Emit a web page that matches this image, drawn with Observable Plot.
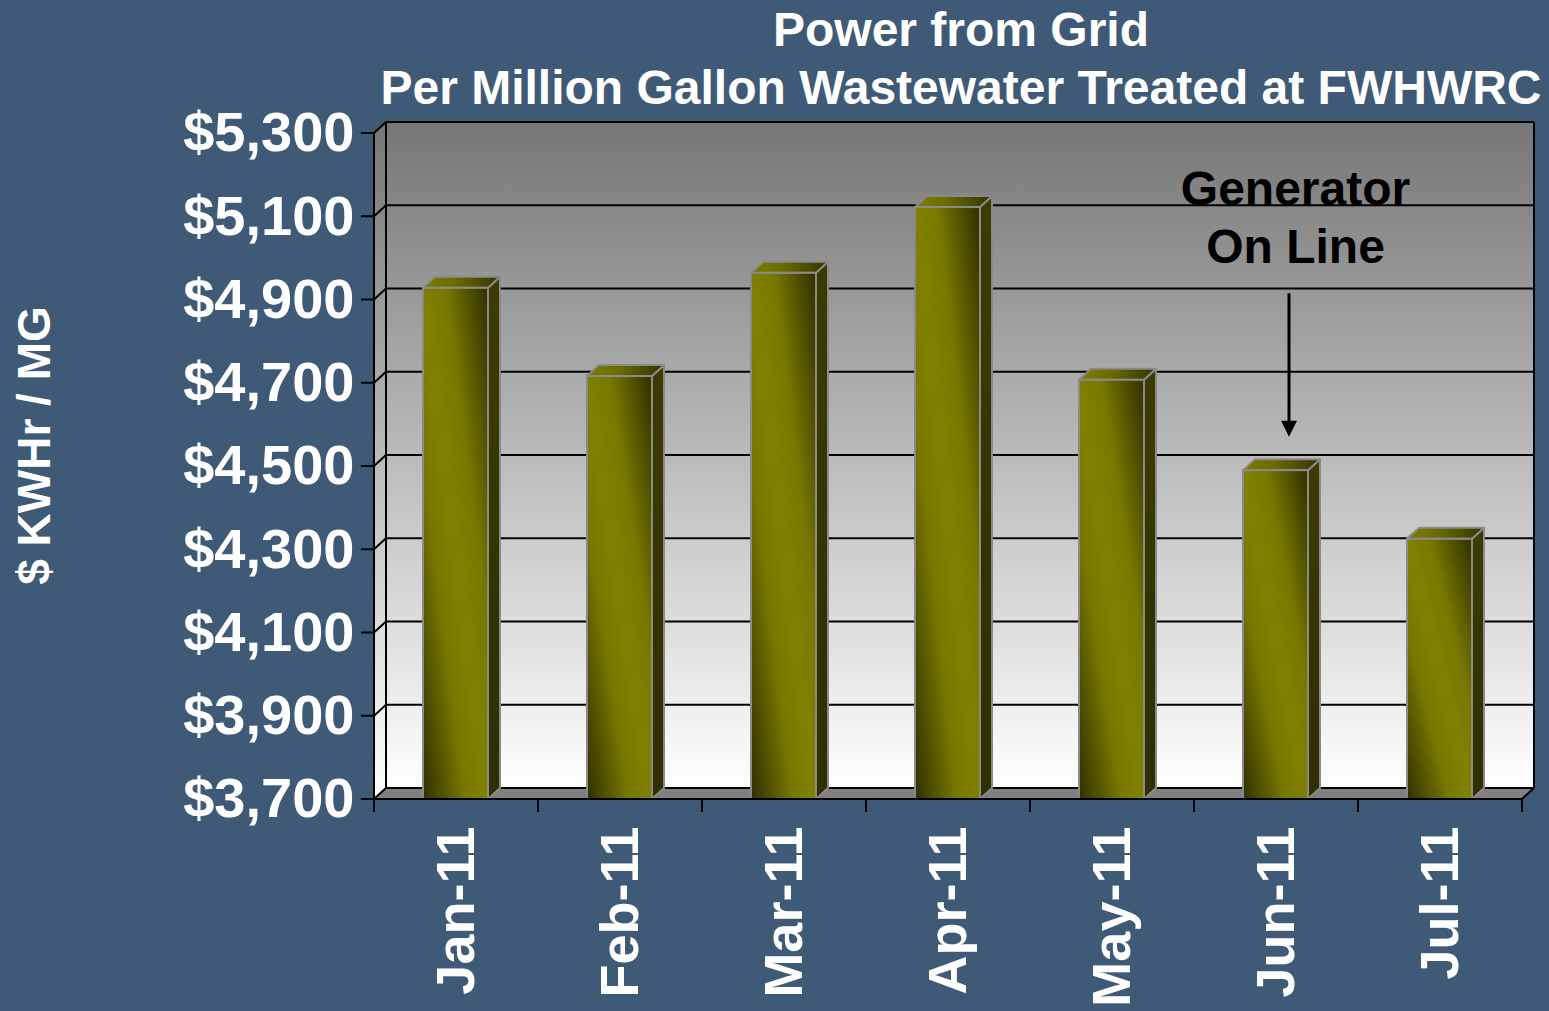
<!DOCTYPE html>
<html>
<head>
<meta charset="utf-8">
<script src="https://cdn.jsdelivr.net/npm/d3@7"></script>
<script src="https://cdn.jsdelivr.net/npm/@observablehq/plot@0.6"></script>
<style>
  html, body { margin: 0; padding: 0; background: #3f5a76; width: 1549px; height: 1011px; overflow: hidden; }
  #wrap { position: relative; width: 1549px; height: 1011px; }
  .title { position: absolute; left: 361px; width: 1200px; text-align: center; color: #ffffff;
           font: bold 48px "Liberation Sans", Arial, sans-serif; line-height: 48px; white-space: nowrap; }
  #chart { position: absolute; left: 0; top: 0; }
</style>
</head>
<body>
<div id="wrap">
  <div id="chart"></div>
  <div class="title" style="top:6px">Power from Grid</div>
  <div class="title" style="top:64px">Per Million Gallon Wastewater Treated at FWHWRC</div>
</div>
<script>
// ---------- data ----------
const months = ["Jan-11", "Feb-11", "Mar-11", "Apr-11", "May-11", "Jun-11", "Jul-11"];
const values = [4928, 4716, 4964, 5122, 4707, 4490, 4325];
const yTicks = [3700, 3900, 4100, 4300, 4500, 4700, 4900, 5100, 5300];
const yDomain = [3700, 5300];
const yLabel = "$ KWHr / MG";
const annotationText = "Generator\nOn Line";
const annotationMonth = "Jun-11";
const arrowFrom = 4915;
const arrowTo = 4570;

// ---------- build ----------
const data = months.map((m, i) => ({month: m, value: values[i]}));
const FONT = '"Liberation Sans", Arial, sans-serif';
const DX = 12, DY = -11;           // 3-D depth offset
const INSET_L = 49, INSET_R = 50;  // bar insets within band
const fmt = d3.format("$,.0f");
const NS = "http://www.w3.org/2000/svg";

function el(tag, attrs) {
  const e = document.createElementNS(NS, tag);
  for (const k in attrs) e.setAttribute(k, attrs[k]);
  return e;
}
function pts(arr) { return arr.map(p => p.join(",")).join(" "); }

// back wall, side wall, floor, gridlines
function frame3d(index, {x, y}) {
  const g = el("g", {});
  const defs = el("defs", {});
  defs.innerHTML = `
    <linearGradient id="wallGrad" x1="0" y1="0" x2="0" y2="1">
      <stop offset="0" stop-color="#767676"/><stop offset="1" stop-color="#ffffff"/>
    </linearGradient>
    <linearGradient id="barFront" x1="1" y1="0" x2="0" y2="1">
      <stop offset="0" stop-color="#2f2f00"/><stop offset="0.33" stop-color="#787800"/>
      <stop offset="0.5" stop-color="#808000"/><stop offset="0.67" stop-color="#787800"/>
      <stop offset="1" stop-color="#2f2f00"/>
    </linearGradient>
    <linearGradient id="barTop" x1="0" y1="0" x2="1" y2="0">
      <stop offset="0" stop-color="#7c7c00"/><stop offset="0.4" stop-color="#6c6c00"/><stop offset="1" stop-color="#333300"/>
    </linearGradient>
    <linearGradient id="barSide" x1="0" y1="0" x2="0" y2="1">
      <stop offset="0" stop-color="#3c3c00"/><stop offset="1" stop-color="#2e2e00"/>
    </linearGradient>`;
  g.appendChild(defs);
  const bw = x.bandwidth();
  const xL = x(months[0]), xR = x(months[months.length - 1]) + bw;
  const yT = y(yDomain[1]), yB = y(yDomain[0]);
  g.appendChild(el("rect", {x: xL + DX, y: yT + DY, width: xR - xL, height: yB - yT, fill: "url(#wallGrad)"}));
  g.appendChild(el("polygon", {points: pts([[xL, yT], [xL + DX, yT + DY], [xL + DX, yB + DY], [xL, yB]]), fill: "url(#wallGrad)"}));
  g.appendChild(el("polygon", {points: pts([[xL, yB], [xL + DX, yB + DY], [xR + DX, yB + DY], [xR, yB]]), fill: "#808080"}));
  for (const t of yTicks) {
    const yy = y(t);
    g.appendChild(el("line", {x1: xL + DX, x2: xR + DX, y1: yy + DY, y2: yy + DY, stroke: "#000", "stroke-width": 2}));
    g.appendChild(el("line", {x1: xL, x2: xL + DX, y1: yy, y2: yy + DY, stroke: "#000", "stroke-width": 2}));
  }
  g.appendChild(el("line", {x1: xL + DX, x2: xL + DX, y1: yT + DY, y2: yB + DY, stroke: "#000", "stroke-width": 2}));
  g.appendChild(el("line", {x1: xR + DX, x2: xR + DX, y1: yT + DY, y2: yB + DY, stroke: "#000", "stroke-width": 2}));
  g.appendChild(el("line", {x1: xR, x2: xR + DX, y1: yB, y2: yB + DY, stroke: "#000", "stroke-width": 2}));
  return g;
}

// side and top faces of the bars
function barFaces(index, {x, y}) {
  const g = el("g", {stroke: "#8a8a8a", "stroke-width": 2, "stroke-linejoin": "round"});
  const bw = x.bandwidth();
  const yb = y(yDomain[0]);
  for (const d of data) {
    const x0 = x(d.month) + INSET_L, x1 = x(d.month) + bw - INSET_R, y0 = y(d.value);
    g.appendChild(el("polygon", {points: pts([[x1, y0], [x1 + DX, y0 + DY], [x1 + DX, yb + DY], [x1, yb]]), fill: "url(#barSide)"}));
    g.appendChild(el("polygon", {points: pts([[x0, y0], [x0 + DX, y0 + DY], [x1 + DX, y0 + DY], [x1, y0]]), fill: "url(#barTop)"}));
  }
  return g;
}

// front axes lines and ticks
function axes3d(index, {x, y}) {
  const g = el("g", {stroke: "#000", "stroke-width": 2});
  const bw = x.bandwidth();
  const xL = x(months[0]), xR = x(months[months.length - 1]) + bw;
  const yT = y(yDomain[1]), yB = y(yDomain[0]);
  g.appendChild(el("line", {x1: xL, x2: xL, y1: yT, y2: yB + 13}));
  g.appendChild(el("line", {x1: xL, x2: xR, y1: yB, y2: yB}));
  for (const t of yTicks) g.appendChild(el("line", {x1: xL - 13, x2: xL, y1: y(t), y2: y(t)}));
  for (let i = 0; i <= months.length; i++) {
    const xx = xL + i * bw;
    g.appendChild(el("line", {x1: xx, x2: xx, y1: yB, y2: yB + 13}));
  }
  return g;
}

// annotation arrow
function arrowMark(index, {x, y}) {
  const g = el("g", {});
  const cx = x(annotationMonth) + x.bandwidth() / 2 + 13;
  const y0 = y(arrowFrom), y1 = y(arrowTo);
  g.appendChild(el("line", {x1: cx, x2: cx, y1: y0, y2: y1 - 12, stroke: "#000", "stroke-width": 3}));
  g.appendChild(el("polygon", {points: pts([[cx - 8, y1 - 16], [cx + 8, y1 - 16], [cx, y1]]), fill: "#000"}));
  return g;
}

const chart = Plot.plot({
  width: 1549,
  height: 1011,
  marginLeft: 374,
  marginRight: 27,
  marginTop: 133,
  marginBottom: 212,
  style: {background: "transparent", overflow: "visible", fontFamily: FONT},
  x: {domain: months, padding: 0, axis: null},
  y: {domain: yDomain, axis: null},
  marks: [
    frame3d,
    barFaces,
    Plot.barY(data, {x: "month", y1: yDomain[0], y2: "value", insetLeft: INSET_L, insetRight: INSET_R,
                     fill: "url(#barFront)", stroke: "#8a8a8a", strokeWidth: 2}),
    axes3d,
    Plot.text(yTicks, {y: d => d, text: d => fmt(d), frameAnchor: "left", dx: -20, textAnchor: "end",
                       lineAnchor: "middle", fontSize: 56, fontWeight: "bold", fill: "#ffffff"}),
    Plot.text(months, {x: d => d, text: d => d, frameAnchor: "bottom", rotate: -90, textAnchor: "end",
                       lineAnchor: "middle", dy: 27, fontSize: 54, fontWeight: "bold", fill: "#ffffff"}),
    Plot.text([yLabel], {text: d => d, frameAnchor: "left", dx: -339, dy: -21, rotate: -90, textAnchor: "middle",
                         fontSize: 46, fontWeight: "bold", fill: "#ffffff"}),
    Plot.text([{month: annotationMonth, label: annotationText}], {x: "month", text: "label", frameAnchor: "top",
                         dx: 19, dy: 30, lineAnchor: "top", lineHeight: 1.21, fontSize: 48, fontWeight: "bold", fill: "#000000"}),
    arrowMark
  ]
});
document.getElementById("chart").appendChild(chart);
</script>
</body>
</html>
